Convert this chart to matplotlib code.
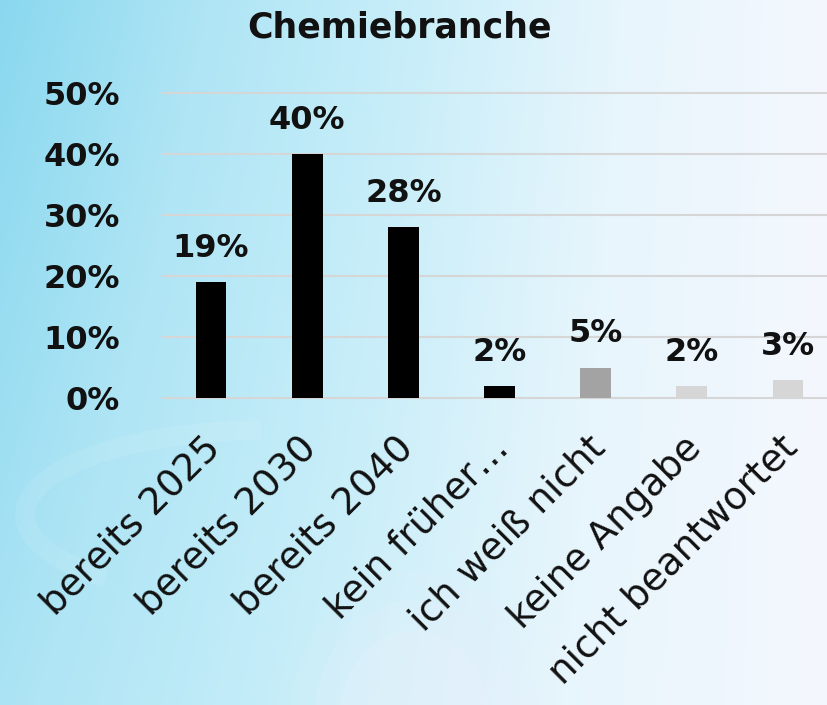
"""Bar chart of survey answers for the chemical industry on a soft blue backdrop."""

import matplotlib

matplotlib.use("Agg")
import matplotlib.pyplot as plt  # noqa: E402
import numpy as np  # noqa: E402
from matplotlib.colors import LinearSegmentedColormap  # noqa: E402
from matplotlib.patches import Arc, Ellipse  # noqa: E402
from matplotlib.transforms import ScaledTranslation  # noqa: E402

CATEGORIES = [
    "bereits 2025",
    "bereits 2030",
    "bereits 2040",
    "kein früher…",
    "ich weiß nicht",
    "keine Angabe",
    "nicht beantwortet",
]
SHARES = [19, 40, 28, 2, 5, 2, 3]
BAR_COLORS = ["#000000", "#000000", "#000000", "#000000", "#a3a3a3", "#d6d6d6", "#d6d6d6"]
Y_TICKS = [0, 10, 20, 30, 40, 50]
TITLE = "Chemiebranche"

FONT = "DejaVu Sans"
INK = "#111111"
W, H = 828, 705

fig = plt.figure(figsize=(W / 100, H / 100), dpi=100)

# Background: cyan on the left fading to near white on the right.
bg = fig.add_axes([0, 0, 1, 1], zorder=-10)
gx, gy = np.meshgrid(np.linspace(0, 1, 400), np.linspace(0, 1, 340))
t = np.clip(gx + 0.22 * gy * (1 - gx), 0, 1)
cmap = LinearSegmentedColormap.from_list(
    "bg", ["#8ad8ef", "#afe5f5", "#c8eef9", "#e7f5fc", "#f4f8fe"]
)
bg.imshow(t, cmap=cmap, aspect="auto", extent=[0, 1, 0, 1], origin="upper",
          interpolation="bicubic")
# faint light swirls in the lower half
bg.add_patch(Arc((0.32, 0.27), 0.58, 0.24, theta1=92, theta2=205,
                 color="white", lw=14, alpha=0.09))
for r, a in [(0.30, 0.08), (0.24, 0.12), (0.18, 0.16)]:
    bg.add_patch(Ellipse((0.50, -0.02), r, r * 1.4, color="#f4f0fb", alpha=a, lw=0))
bg.set_xlim(0, 1)
bg.set_ylim(0, 1)
bg.axis("off")

left, bottom = 163 / W, 1 - 398 / H
ax = fig.add_axes([left, bottom, 673 / W, 305 / H])
ax.patch.set_alpha(0)

x = np.arange(len(CATEGORIES))
ax.bar(x, SHARES, width=0.32, color=BAR_COLORS, zorder=3)
for xi, v in zip(x, SHARES):
    ax.annotate(f"{v}%", (xi, v), xytext=(0, 18), textcoords="offset points",
                ha="center", va="baseline", fontsize=23, fontweight="bold",
                family=FONT, color=INK)

for yv in Y_TICKS:
    ax.axhline(yv, color="#d6d6d6", lw=1.5, zorder=1, clip_on=False)

ax.set_xlim(-0.5, len(CATEGORIES) - 0.5)
ax.set_ylim(0, 50)
ax.set_yticks(Y_TICKS)
ax.set_yticklabels([f"{v}%" for v in Y_TICKS], fontsize=23, fontweight="bold",
                   family=FONT, color=INK)
ax.set_xticks(x)
ax.set_xticklabels(CATEGORIES, rotation=45, ha="right", va="center",
                   rotation_mode="anchor", fontsize=27, family=FONT, color=INK)
ax.tick_params(axis="y", length=0, pad=31)
ax.tick_params(axis="x", length=0, pad=32)
# nudge the slanted labels a little to the right of the bar centres
shift = ScaledTranslation(0.04, 0, fig.dpi_scale_trans)
for lbl in ax.get_xticklabels():
    lbl.set_transform(lbl.get_transform() + shift)
for spine in ax.spines.values():
    spine.set_visible(False)

fig.text(400 / W, 1 - 28 / H, TITLE, ha="center", va="center", fontsize=25,
         fontweight="bold", family=FONT, color=INK)

fig.savefig("out.png", dpi=100)
